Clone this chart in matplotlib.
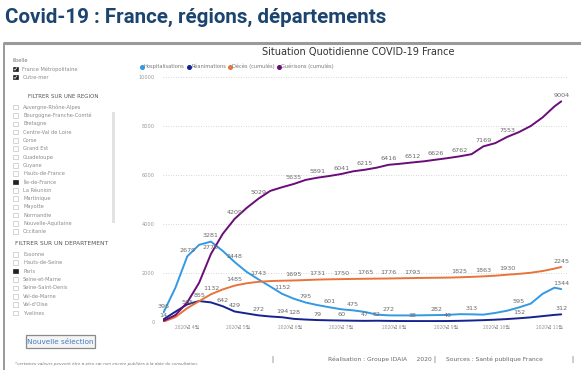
import matplotlib
matplotlib.use('Agg')
import matplotlib.pyplot as plt
import matplotlib.dates as mdates
from matplotlib.patches import Rectangle
from matplotlib.lines import Line2D
import pandas as pd

# --- data (Paris, 2020) ---
dates = ['2020-03-18', '2020-03-25', '2020-04-01', '2020-04-08', '2020-04-15',
         '2020-04-22', '2020-04-29', '2020-05-06', '2020-05-13', '2020-05-20',
         '2020-05-27', '2020-06-03', '2020-06-10', '2020-06-17', '2020-06-24',
         '2020-07-01', '2020-07-08', '2020-07-15', '2020-07-22', '2020-07-29',
         '2020-08-05', '2020-08-12', '2020-08-19', '2020-08-26', '2020-09-02',
         '2020-09-09', '2020-09-16', '2020-09-23', '2020-09-30', '2020-10-07',
         '2020-10-14', '2020-10-21', '2020-10-28', '2020-11-04', '2020-11-08']

hospitalisations = [395, 1400, 2679, 3150, 3281, 2900, 2448, 2050, 1743, 1450,
                    1152, 950, 795, 690, 601, 520, 475, 410, 300, 272,
                    268, 270, 275, 282, 290, 320, 313, 300, 370, 460,
                    595, 750, 1150, 1400, 1344]
reanimations = [110, 420, 720, 855, 800, 642, 429, 350, 272, 225,
                194, 128, 100, 79, 68, 60, 52, 47, 52, 45,
                40, 38, 37, 38, 40, 48, 60, 75, 95, 120,
                152, 190, 240, 290, 312]
deces = [14, 200, 565, 850, 1132, 1330, 1485, 1580, 1640, 1670,
         1685, 1695, 1712, 1731, 1742, 1750, 1758, 1765, 1770, 1776,
         1785, 1793, 1800, 1806, 1812, 1825, 1842, 1863, 1890, 1930,
         1965, 2010, 2080, 2180, 2245]
guerisons = [50, 280, 800, 1600, 2778, 3600, 4209, 4650, 5029, 5350,
             5500, 5635, 5800, 5891, 5960, 6041, 6150, 6215, 6300, 6416,
             6460, 6512, 6560, 6626, 6690, 6762, 6850, 7169, 7300, 7553,
             7750, 8000, 8350, 8800, 9004]

# indices of the points that show a value label
hosp_labels = [0, 2, 4, 6, 8, 10, 12, 14, 16, 19, 23, 26, 30, 34]
rea_labels = [3, 5, 6, 8, 10, 11, 13, 15, 17, 18, 21, 24, 30, 34]
deces_labels = [0, 2, 4, 6, 11, 13, 15, 17, 19, 21, 25, 27, 29, 34]
guer_labels = [4, 6, 8, 11, 13, 15, 17, 19, 21, 23, 25, 27, 29, 34]

series_names = ['Hospitalisations', 'Réanimations', 'Décès (cumulés)', 'Guérisons (cumulés)']
series_colors = ['#3399E3', '#15238F', '#E8743B', '#6B0C7A']

regions = ['Auvergne-Rhône-Alpes', 'Bourgogne-Franche-Comté', 'Bretagne', 'Centre-Val de Loire',
           'Corse', 'Grand Est', 'Guadeloupe', 'Guyane', 'Hauts-de-France', 'Île-de-France',
           'La Réunion', 'Martinique', 'Mayotte', 'Normandie', 'Nouvelle-Aquitaine', 'Occitanie']
departements = ['Essonne', 'Hauts-de-Seine', 'Paris', 'Seine-et-Marne', 'Seine-Saint-Denis',
                'Val-de-Marne', "Val-d'Oise", 'Yvelines']
libelles = ['France Métropolitaine', 'Outre-mer']

W, H = 581, 370
fig = plt.figure(figsize=(W / 100, H / 100), dpi=100)
fig.patch.set_facecolor('white')

# background axes in pixel coordinates for the dashboard furniture
bg = fig.add_axes([0, 0, 1, 1])
bg.set_xlim(0, W)
bg.set_ylim(H, 0)
bg.axis('off')

title_font = ['Liberation Sans Narrow', 'Roboto', 'DejaVu Sans']
bg.text(5, 17, 'Covid-19 : France, régions, départements', fontsize=14.8, fontweight='bold',
        color='#1B446F', va='center', ha='left', family=title_font)

# gray frame
bg.plot([3, W], [42.5, 42.5], color='#9a9a9a', lw=2.2, solid_capstyle='butt')
bg.plot([4, 4], [42.5, H], color='#9a9a9a', lw=1.4, solid_capstyle='butt')

txt_col = '#8c8c8c'
item_fs = 3.7


def checkbox(x, y, state):
    # state: 0 empty, 1 ticked, 2 filled
    if state == 0:
        bg.add_patch(Rectangle((x, y - 2.4), 4.6, 4.6, fc='white', ec='#c4c4c4', lw=0.5))
    else:
        bg.add_patch(Rectangle((x, y - 2.4), 4.6, 4.6, fc='#222222', ec='#222222', lw=0.5))
        if state == 1:
            bg.plot([x + 1.0, x + 2.0, x + 3.8], [y + 0.1, y + 1.2, y - 1.3], color='white', lw=0.5)


bg.text(12.5, 60, 'libelle', fontsize=item_fs, color='#777777', va='center')
for i, name in enumerate(libelles):
    y = 69 + i * 8.3
    checkbox(13, y, 1)
    bg.text(22.5, y, name, fontsize=item_fs, color=txt_col, va='center')

bg.text(63, 96, 'FILTRER SUR UNE REGION', fontsize=4.0, color='#555555', va='center', ha='center')
for i, name in enumerate(regions):
    y = 107.3 + i * 8.3
    checkbox(13, y, 2 if name == 'Île-de-France' else 0)
    bg.text(23, y, name, fontsize=item_fs, color=txt_col, va='center')
bg.add_patch(Rectangle((112, 111.5), 2.6, 111.5, fc='#e2e2e2', ec='none'))

bg.text(15, 243.3, 'FILTRER SUR UN DEPARTEMENT', fontsize=4.2, color='#555555', va='center')
for i, name in enumerate(departements):
    y = 254.3 + i * 8.4
    checkbox(13, y, 2 if name == 'Paris' else 0)
    bg.text(23, y, name, fontsize=item_fs, color=txt_col, va='center')

bg.add_patch(Rectangle((26, 335), 69, 13.3, fc='#f4f4f4', ec='#8a8a8a', lw=0.9))
bg.text(60.5, 341.7, 'Nouvelle sélection', fontsize=5.2, color='#3F7CC4', va='center', ha='center')

bg.text(15, 364, '*certaines valeurs peuvent être à zéro car non encore publiées à la date de consultation.',
        fontsize=3.0, color='#777777', va='center', style='italic')

for xb in [273, 435, 573]:
    bg.add_patch(Rectangle((xb - 1, 355.5), 2, 7, fc='#cfcfcf', ec='none'))
bg.text(328, 359.3, 'Réalisation : Groupe IDAIA     2020', fontsize=4.3, color='#666666', va='center')
bg.text(446, 359.3, 'Sources : Santé publique France', fontsize=4.3, color='#666666', va='center')

bg.text(358, 51.5, 'Situation Quotidienne COVID-19 France', fontsize=7.0, color='#333333',
        va='center', ha='center')

# --- main chart ---
ax = fig.add_axes([163 / W, 1 - 322 / H, (567 - 163) / W, (322 - 77) / H])
ax.set_facecolor('none')
x = pd.to_datetime(dates)
all_series = [hospitalisations, reanimations, deces, guerisons]
all_labels = [hosp_labels, rea_labels, deces_labels, guer_labels]

for vals, idx, col in zip(all_series, all_labels, series_colors):
    ax.plot(x, vals, color=col, lw=1.4, solid_capstyle='round', zorder=3)
    for i in idx:
        ax.annotate(str(vals[i]), (x[i], vals[i]), xytext=(0, 2.5), textcoords='offset points',
                    ha='center', va='bottom', fontsize=4.6, color='#6a6a6a', zorder=4)

ax.set_ylim(0, 10000)
ax.set_xlim(pd.Timestamp('2020-03-17 16:00'), pd.Timestamp('2020-11-11 10:00'))
ax.set_yticks([0, 2000, 4000, 6000, 8000, 10000])
ax.grid(axis='y', linestyle=(0, (1, 2)), color='#c8c8c8', lw=0.6)
ax.set_axisbelow(True)
for s in ax.spines.values():
    s.set_visible(False)
ax.tick_params(axis='y', length=0, labelsize=3.6, labelcolor='#999999', pad=6)
ax.tick_params(axis='x', length=0, labelsize=3.6, labelcolor='#999999', pad=2)

ax.xaxis.set_major_locator(mdates.MonthLocator(bymonth=range(4, 12)))
ax.xaxis.set_major_formatter(mdates.DateFormatter('2020년 %-m월'))
for lab in ax.get_xticklabels():
    lab.set_family(['Noto Sans CJK KR', 'DejaVu Sans'])

handles = [Line2D([], [], marker='o', ls='none', ms=2.6, color=c) for c in series_colors]
fig.legend(handles, series_names, loc='center left', bbox_to_anchor=(140 / W, 1 - 66.7 / H),
           ncol=4, frameon=False, fontsize=3.7, handletextpad=0.15, columnspacing=0.5,
           handlelength=0.6, borderaxespad=0, borderpad=0, labelcolor='#777777')

plt.savefig('out.png', dpi=100)
